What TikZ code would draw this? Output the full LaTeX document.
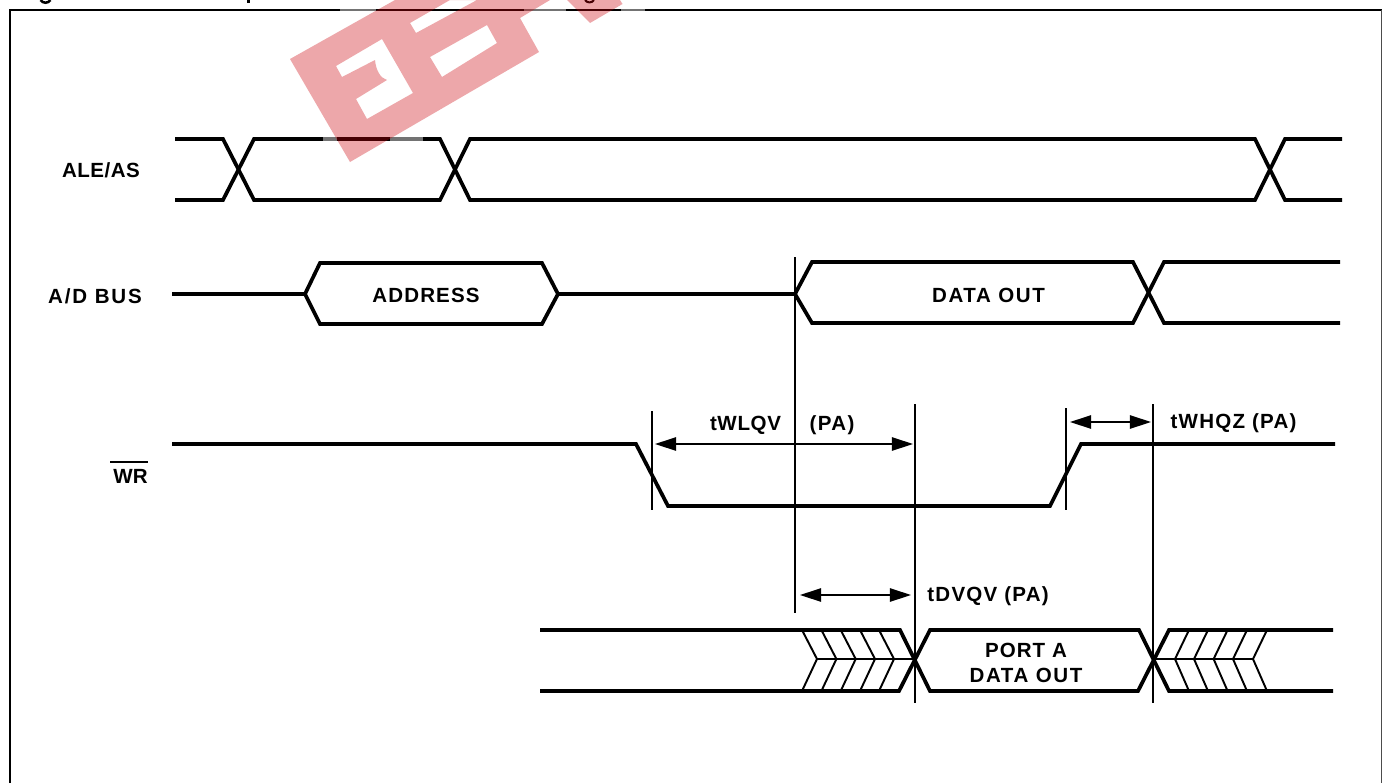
\documentclass[tikz,border=0pt]{standalone}
\usepackage{fontspec}
\setmainfont{Liberation Sans}
\usetikzlibrary{arrows.meta}
\tikzset{
  sig/.style={line width=2.8pt,line join=miter,line cap=butt},
  hatch/.style={line width=1.45pt},
  marker/.style={line width=1.15pt},
  frameline/.style={line width=1.1pt},
  span/.style={line width=1.15pt,{Triangle[length=15.8pt,width=10pt]}-{Triangle[length=15.8pt,width=10pt]}},
  lab/.style={inner sep=0pt,align=center,font=\fontsize{15.4pt}{18.8pt}\selectfont\bfseries\addfontfeature{LetterSpace=#1}},
  lab/.default=1
}
\definecolor{wm}{RGB}{203,0,10}
\begin{document}
\begin{tikzpicture}[x=0.75pt,y=-0.75pt]
\useasboundingbox (0,0) rectangle (1386,783);
\fill[white] (0,0) rectangle (1386,783);

% frame, open at the bottom edge of the picture
\coordinate (fbl) at (10,783);
\coordinate (ftl) at (10,10);
\coordinate (ftr) at (1381.5,10);
\coordinate (fbr) at (1381.5,783);
\draw[frameline] (fbl) -- (ftl) -- (ftr);
\draw[frameline,black!70] (ftr) -- (fbr);

% cropped caption remains
\draw[line width=1.9pt] (40.5,0) .. controls (43,3.6) and (48,3.6) .. (50.5,0);
\draw[line width=1.9pt] (248.5,0) -- (248.5,2.6);
\draw[line width=1.5pt] (585,0) .. controls (587,3.2) and (592,3.2) .. (594,0);

% ALE/AS
\node[lab=2.5] (ale) at (101,170) {ALE/AS};
\draw[sig] (175,139) -- (223,139) -- (254,200) -- (440,200) -- (470,139) -- (1255,139) -- (1285,200) -- (1342,200);
\draw[sig] (175,200) -- (223,200) -- (254,139) -- (440,139) -- (470,200) -- (1255,200) -- (1285,139) -- (1342,139);

% A/D BUS
\node[lab=9] (adbus) at (95,296) {A/D BUS};
\node[lab=5.5] (addr) at (426,295) {ADDRESS};
\node[lab=8] (dout) at (988.5,295) {DATA OUT};
\draw[sig] (172,294) -- (305,294) -- (320,263) -- (542,263) -- (558,294) -- (795,294) -- (812,262) -- (1133,262) -- (1164,323) -- (1340,323);
\draw[sig] (305,294) -- (320,324) -- (542,324) -- (558,294);
\draw[sig] (795,294) -- (812,323) -- (1133,323) -- (1164,262) -- (1340,262);
\draw[line width=1.2pt] (425,325) -- (436,325);

% WR
\node[lab] (wr) at (130.5,476) {WR};
\draw[line width=1.3pt] (110,462) -- (148,462);
\draw[sig] (172,444) -- (636,444) -- (668,506) -- (1050,506) -- (1081,444) -- (1335,444);

% PORT A
\draw[sig] (540,630) -- (900,630) -- (930,691) -- (1138,691) -- (1169,630) -- (1333,630);
\draw[sig] (540,691) -- (899,691) -- (930,630) -- (1139,630) -- (1169,691) -- (1333,691);
\node[lab=8] (porta) at (1026,662.5) {\addfontfeature{LetterSpace=5}PORT A\\DATA OUT};
\foreach \x in {817,836.4,855.7,875,894}
  \draw[hatch] (\x-15,630) -- (\x,659) -- (\x-15,691);
\draw[hatch] (817,659) -- (915,659);
\foreach \x in {1175,1194,1213.6,1233,1253}
  \draw[hatch] (\x+14,630) -- (\x,659) -- (\x+14,691);
\draw[hatch] (1154,659) -- (1253,659);

% timing markers
\coordinate (m1t) at (652,411); \coordinate (m1b) at (652,510);
\coordinate (m2t) at (795,257); \coordinate (m2b) at (795,613);
\coordinate (m3t) at (915,404); \coordinate (m3b) at (915,703);
\coordinate (m4t) at (1066,408); \coordinate (m4b) at (1066,510);
\coordinate (m5t) at (1153,404); \coordinate (m5b) at (1153,703);
\draw[marker] (m1t) -- (m1b);
\draw[marker] (m2t) -- (m2b);
\draw[marker] (m3t) -- (m3b);
\draw[marker] (m4t) -- (m4b);
\draw[marker] (m5t) -- (m5b);

% spans
\coordinate (a1l) at (655,444); \coordinate (a1r) at (913,444);
\coordinate (a2l) at (1070,422); \coordinate (a2r) at (1151,422);
\coordinate (a3l) at (800,595); \coordinate (a3r) at (911,595);
\draw[span] (a1l) -- (a1r);
\draw[span] (a2l) -- (a2r);
\draw[span] (a3l) -- (a3r);

\node[lab=3] (t1) at (745.5,425) {tWLQV};
\node[lab=7] (t1b) at (832,425) {(PA)};
\node[lab=6] (t2) at (1233.5,423) {tWHQZ (PA)};
\node[lab=6] (t3) at (988,596) {tDVQV (PA)};

% watermark halo over the lines
\foreach \a/\b/\y in {340/376/10,524/566/10,621/645/10,323/337/139,390/423/139}
  \draw[white,opacity=.45,line width=2.9pt] (\a,\y) -- (\b,\y);

% watermark
\fill[wm,opacity=.345,even odd rule]
  (290,59) -- (395,0) -- (550,0) -- (520,18) -- (539,52) -- (350,162) -- cycle
  (410,23) -- (450,0) -- (477,0) -- (416,33) -- cycle
  (430,57) -- (487,25) -- (497,43) -- (442,77) -- cycle
  (336,66) -- (382,39) -- (413,93) -- (367,119) -- (356,99) -- (387,80) .. controls (380,78) and (376,70) .. (375,60) -- (342,77) -- cycle;
\fill[wm,opacity=.345] (567,0) -- (620,0) -- (622.5,4) -- (590,23) -- cycle;
\end{tikzpicture}
\end{document}
